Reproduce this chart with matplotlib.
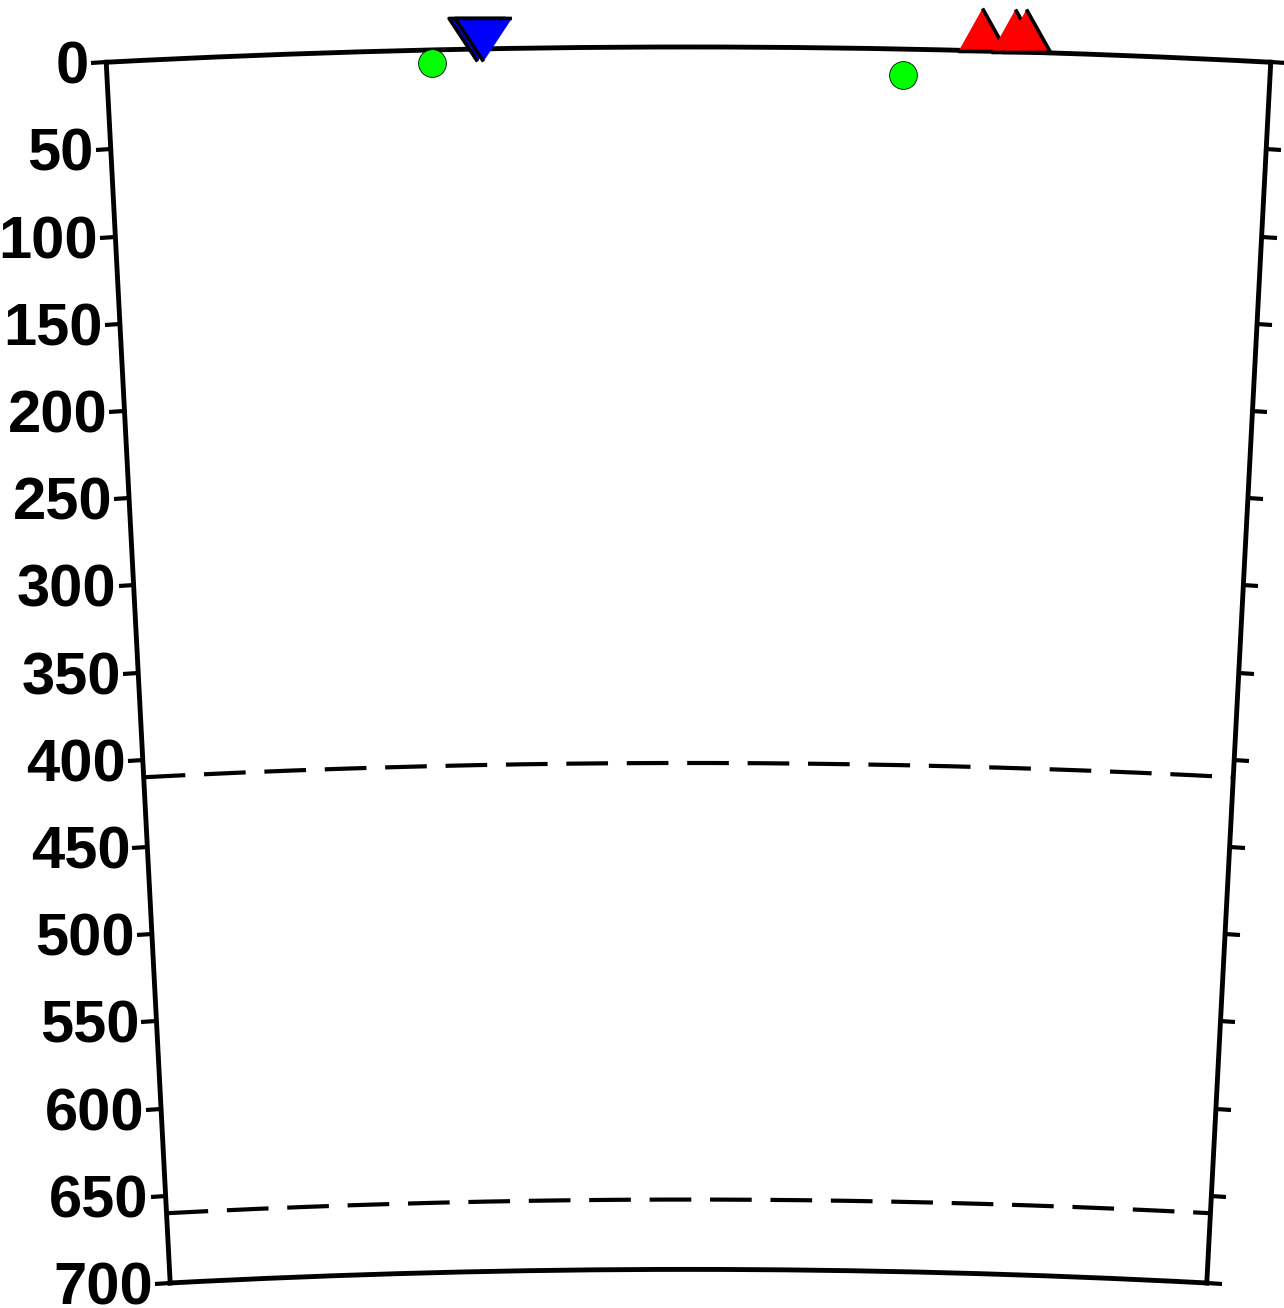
import numpy as np
import matplotlib.pyplot as plt
from matplotlib.ticker import NullFormatter
from matplotlib.transforms import ScaledTranslation

plt.rcParams['font.family'] = ['Liberation Sans', 'DejaVu Sans']
plt.rcParams['font.weight'] = 'bold'

R_EARTH = 6371.0
depth_ticks = list(range(0, 701, 50))
discontinuities = [410, 660]

# earthquakes (green circles): angle along the section (deg), depth (km)
quake_theta = [-1.32, 1.11]
quake_depth = [7.5, 15.0]
# blue inverted triangles
blue_theta = [-1.09, -1.06]
blue_depth = [7.0, 7.0]
# red triangles (stations at the surface)
red_theta = [1.51, 1.68, 1.74]
red_depth = [0.0, 0.0, 0.0]

fig = plt.figure(figsize=(12.84, 13.08), dpi=100)
ax = fig.add_axes([0.0549, 0.0191, 0.9626, 0.9450], projection='polar')
ax.set_theta_zero_location('N')
ax.set_theta_direction(-1)
ax.set_thetamin(-3)
ax.set_thetamax(3)
ax.set_rorigin(0)
ax.set_rlim(R_EARTH - 700, R_EARTH)

ax.set_xticks([])
ax.set_yticks([R_EARTH - d for d in depth_ticks])
ax.yaxis.set_major_formatter(NullFormatter())
ax.yaxis.set_ticks_position('both')
ax.tick_params(axis='y', width=3, length=11, direction='out')
ax.grid(False)
for s in ax.spines.values():
    s.set_linewidth(3.5)

# depth labels beside the left edge
lab_off = ax.transData + ScaledTranslation(-17 / 100, -21.5 / 100, fig.dpi_scale_trans)
for d in depth_ticks:
    ax.text(np.deg2rad(-3), R_EARTH - d, str(d), transform=lab_off,
            ha='right', va='baseline', fontsize=43, fontweight='bold',
            clip_on=False)

# 410 / 660 discontinuities
th = np.deg2rad(np.linspace(-3, 3, 300))
for d in discontinuities:
    ax.plot(th, np.full_like(th, R_EARTH - d), color='black', lw=3,
            dashes=(10, 4.5))

tri_down = [(0, 0), (-0.66, 1), (0.66, 1)]
tri_up = [(-0.56, 0), (0.56, 0), (0, 1)]

ax.plot(np.deg2rad(quake_theta), [R_EARTH - d for d in quake_depth], 'o',
        ms=20, mfc='#00ff00', mec='black', mew=0.6, clip_on=False, zorder=5)
for t, d in zip(blue_theta, blue_depth):
    ax.plot(np.deg2rad(t), R_EARTH - d, marker=tri_down, ms=62, mfc='#0000ff',
            mec='black', mew=2.6, ls='none', clip_on=False, zorder=6)
for t, d in zip(red_theta, red_depth):
    ax.plot(np.deg2rad(t), R_EARTH - d, marker=tri_up, ms=62, mfc='#ff0000',
            mec='black', mew=2.6, ls='none', clip_on=False, zorder=6)

fig.savefig('out.png', dpi=100)
